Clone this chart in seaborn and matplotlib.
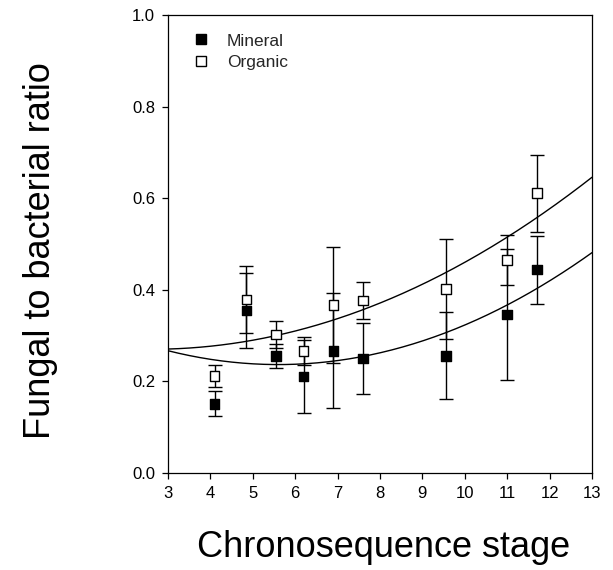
import numpy as np
import pandas as pd
import matplotlib
matplotlib.use("Agg")
import matplotlib.pyplot as plt
import seaborn as sns

# ---- data ----
stage = [4.1, 4.85, 5.55, 6.2, 6.9, 7.6, 9.55, 11.0, 11.7]
mineral = [0.151, 0.355, 0.256, 0.211, 0.267, 0.250, 0.256, 0.346, 0.444]
mineral_err = [0.027, 0.081, 0.026, 0.080, 0.125, 0.077, 0.095, 0.142, 0.074]
organic = [0.212, 0.379, 0.302, 0.266, 0.367, 0.377, 0.402, 0.465, 0.611]
organic_err = [0.024, 0.074, 0.030, 0.030, 0.126, 0.040, 0.110, 0.055, 0.084]
series = ["Mineral", "Organic"]
xticks = list(range(3, 14))
yticks = [0.0, 0.2, 0.4, 0.6, 0.8, 1.0]

sns.set_theme(style="white")
plt.rcParams["font.family"] = ["Liberation Sans", "DejaVu Sans"]

df = pd.DataFrame({
    "stage": stage * 2,
    "ratio": mineral + organic,
    "err": mineral_err + organic_err,
    "series": [series[0]] * len(stage) + [series[1]] * len(stage),
})

fig = plt.figure(figsize=(6.13, 5.70), dpi=100)
ax = fig.add_axes([168 / 613, 1 - 473 / 570, 424 / 613, 458 / 570])

# quadratic regression curves
xs = np.linspace(3, 13, 200)
curves = []
for s in series:
    sub = df[df.series == s]
    c = np.polyfit(sub.stage, sub.ratio, 2)
    curves.append(pd.DataFrame({"x": xs, "y": np.polyval(c, xs), "series": s}))
cdf = pd.concat(curves)
sns.lineplot(data=cdf, x="x", y="y", units="series", estimator=None,
             color="black", lw=1.0, ax=ax, legend=False, zorder=2)

# error bars
for s in series:
    sub = df[df.series == s]
    ax.errorbar(sub.stage, sub.ratio, yerr=sub.err, fmt="none", ecolor="black",
                elinewidth=1.0, capsize=4.7, capthick=1.0, zorder=3)

# markers
sns.scatterplot(data=df, x="stage", y="ratio", style="series", hue="series",
                markers={"Mineral": "s", "Organic": "s"},
                palette={"Mineral": "black", "Organic": "white"},
                edgecolor="black", linewidth=1.0, s=48, ax=ax, zorder=4)

ax.set_xlim(3, 13)
ax.set_ylim(0, 1.0)
ax.set_xticks(xticks)
ax.set_yticks(yticks)
ax.set_yticklabels([f"{v:.1f}" for v in yticks])
ax.tick_params(axis="both", direction="out", length=4.3, width=0.9,
               color="black", labelsize=12, pad=5, bottom=True, left=True,
               top=False, right=False, labelcolor="black")
for sp in ax.spines.values():
    sp.set_visible(True)
    sp.set_color("black")
    sp.set_linewidth(0.9)

ax.set_xlabel("Chronosequence stage", fontsize=26, color="black")
ax.set_ylabel("Fungal to bacterial ratio", fontsize=26, color="black")
ax.xaxis.set_label_coords(384 / 613, 1 - 557 / 570, transform=fig.transFigure)
ax.xaxis.label.set_va("baseline")
ax.yaxis.set_label_coords(50 / 613, 1 - 251 / 570, transform=fig.transFigure)
ax.yaxis.label.set_va("baseline")

handles, labels = ax.get_legend_handles_labels()
leg = ax.legend(handles, labels, loc="upper left", frameon=False,
                bbox_to_anchor=(0.04, 0.975), fontsize=12.5,
                handletextpad=1.0, labelspacing=0.35, handlelength=1.0,
                borderaxespad=0.0)
for h in leg.legend_handles:
    try:
        h.set_markeredgecolor("black")
        h.set_markersize(7.5)
    except AttributeError:
        h.set_edgecolor("black")

fig.savefig("out.png", dpi=100)
